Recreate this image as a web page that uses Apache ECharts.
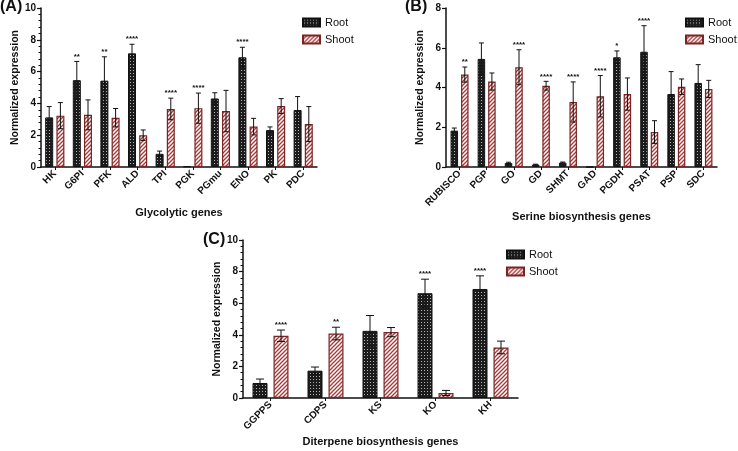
<!DOCTYPE html>
<html>
<head>
<meta charset="utf-8">
<script src="https://cdn.jsdelivr.net/npm/echarts@6/dist/echarts.min.js"></script>
<style>
  html, body { margin: 0; padding: 0; background: #fff; }
  #chart { width: 738px; height: 451px; }
</style>
</head>
<body>
<div id="chart"></div>
<script>
// (A) glycolytic genes
const glyGenes = ['HK', 'G6PI', 'PFK', 'ALD', 'TPI', 'PGK', 'PGmu', 'ENO', 'PK', 'PDC'];
const glyRoot = [3.12, 5.46, 5.43, 7.15, 0.83, 0.04, 4.31, 6.9, 2.32, 3.58];
const glyRootErr = [0.68, 1.18, 1.5, 0.57, 0.17, 0, 0.36, 0.63, 0.2, 0.85];
const glyShoot = [3.23, 3.28, 3.1, 2.0, 3.65, 3.7, 3.52, 2.54, 3.83, 2.7];
const glyShootErr = [0.82, 0.94, 0.58, 0.33, 0.68, 0.95, 1.3, 0.52, 0.47, 1.1];
const glyRootSig = ['', '**', '**', '****', '', '', '', '****', '', ''];
const glyShootSig = ['', '', '', '', '****', '****', '', '', '', ''];

// (B) serine biosynthesis genes
const serGenes = ['RUBISCO', 'PGP', 'GO', 'GD', 'SHMT', 'GAD', 'PGDH', 'PSAT', 'PSP', 'SDC'];
const serRoot = [1.83, 5.44, 0.2, 0.12, 0.22, 0, 5.52, 5.8, 3.67, 4.23];
const serRootErr = [0.13, 0.8, 0.04, 0.02, 0.03, 0, 0.32, 1.31, 1.13, 0.92];
const serShoot = [4.65, 4.3, 5.02, 4.09, 3.27, 3.56, 3.67, 1.76, 4.04, 3.93];
const serShootErr = [0.38, 0.43, 0.88, 0.22, 1.01, 1.04, 0.81, 0.57, 0.39, 0.43];
const serRootSig = ['', '', '', '', '', '', '*', '****', '', ''];
const serShootSig = ['**', '', '****', '****', '****', '****', '', '', '', ''];

// (C) diterpene biosynthesis genes
const dtpGenes = ['GGPPS', 'CDPS', 'KS', 'KO', 'KH'];
const dtpRoot = [0.95, 1.73, 4.25, 6.63, 6.9];
const dtpRootErr = [0.25, 0.23, 0.97, 0.89, 0.83];
const dtpShoot = [3.94, 4.08, 4.17, 0.32, 3.2];
const dtpShootErr = [0.36, 0.4, 0.29, 0.16, 0.4];
const dtpRootSig = ['', '', '', '****', '****'];
const dtpShootSig = ['****', '**', '', '', ''];

const FONT = 'Liberation Sans, Arial, sans-serif';

// bar fill patterns
function rootPattern() {
  const c = document.createElement('canvas');
  c.width = 3; c.height = 3;
  const g = c.getContext('2d');
  g.fillStyle = '#1c1c1c';
  g.fillRect(0, 0, 3, 3);
  g.fillStyle = '#b5b5b5';
  g.fillRect(1, 1, 1, 1);
  return { image: c, repeat: 'repeat' };
}
function shootPattern() {
  const c = document.createElement('canvas');
  c.width = 4; c.height = 4;
  const g = c.getContext('2d');
  g.fillStyle = '#ffffff';
  g.fillRect(0, 0, 4, 4);
  g.strokeStyle = '#a23a3a';
  g.lineWidth = 1.3;
  g.beginPath();
  g.moveTo(-1, 5); g.lineTo(5, -1);
  g.moveTo(-1, 1); g.lineTo(1, -1);
  g.moveTo(3, 5); g.lineTo(5, 3);
  g.stroke();
  return { image: c, repeat: 'repeat' };
}
const rootFill = rootPattern();
const shootFill = shootPattern();

const grids = [
  { left: 41, top: 8, right: 421, bottom: 284 },
  { left: 446, top: 8, right: 21, bottom: 284 },
  { left: 243, top: 240, right: 220, bottom: 53 }
];

const panels = [
  { genes: glyGenes, root: glyRoot, rootErr: glyRootErr, shoot: glyShoot, shootErr: glyShootErr,
    rootSig: glyRootSig, shootSig: glyShootSig, max: 10, minor: true, barW: 8, cap: 5,
    xName: 'Glycolytic genes', nameGap: 40 },
  { genes: serGenes, root: serRoot, rootErr: serRootErr, shoot: serShoot, shootErr: serShootErr,
    rootSig: serRootSig, shootSig: serShootSig, max: 8, minor: false, barW: 7.5, cap: 5,
    xName: 'Serine biosynthesis genes', nameGap: 40 },
  { genes: dtpGenes, root: dtpRoot, rootErr: dtpRootErr, shoot: dtpShoot, shootErr: dtpShootErr,
    rootSig: dtpRootSig, shootSig: dtpShootSig, max: 10, minor: true, barW: 15, cap: 8,
    xName: 'Diterpene biosynthesis genes', nameGap: 38 }
];

const xAxes = [], yAxes = [], series = [];

function errRender(vals, errs, sigs, offset, capW) {
  return function (params, api) {
    const i = params.dataIndex;
    const v = vals[i], e = errs[i];
    const cx = api.coord([i, 0])[0] + offset;
    const children = [];
    const yTop = api.coord([i, v + e])[1];
    if (e > 0) {
      const yBot = api.coord([i, v - e])[1];
      const st = { stroke: '#111', lineWidth: 1 };
      children.push({ type: 'line', shape: { x1: cx, y1: yTop, x2: cx, y2: yBot }, style: st });
      children.push({ type: 'line', shape: { x1: cx - capW / 2, y1: yTop, x2: cx + capW / 2, y2: yTop }, style: st });
      children.push({ type: 'line', shape: { x1: cx - capW / 2, y1: yBot, x2: cx + capW / 2, y2: yBot }, style: st });
    }
    if (sigs[i]) {
      children.push({ type: 'text', x: cx, y: yTop - 1,
        style: { text: sigs[i], fill: '#111', font: 'bold 8px ' + FONT, align: 'center', verticalAlign: 'bottom' } });
    }
    return { type: 'group', children: children };
  };
}

panels.forEach(function (p, k) {
  xAxes.push({
    gridIndex: k, type: 'category', data: p.genes,
    name: p.xName, nameLocation: 'middle', nameGap: p.nameGap,
    nameTextStyle: { fontFamily: FONT, fontWeight: 'bold', fontSize: 11, color: '#111' },
    axisLine: { lineStyle: { color: '#111', width: 1.5 } },
    axisTick: { show: true, alignWithLabel: true, length: 3, lineStyle: { color: '#111', width: 1 } },
    axisLabel: { rotate: 45, interval: 0, margin: 5, fontFamily: FONT, fontWeight: 'bold', fontSize: 10, color: '#111' }
  });
  yAxes.push({
    gridIndex: k, type: 'value', min: 0, max: p.max, interval: 2,
    name: 'Normalized expression', nameLocation: 'middle', nameGap: 20,
    nameTextStyle: { fontFamily: FONT, fontWeight: 'bold', fontSize: 10.5, color: '#111' },
    axisLine: { show: true, lineStyle: { color: '#111', width: 1.5 } },
    axisTick: { show: true, length: 4, lineStyle: { color: '#111', width: 1.2 } },
    minorTick: { show: p.minor, splitNumber: 5, length: 2.5, lineStyle: { color: '#111', width: 1 } },
    splitLine: { show: false },
    axisLabel: { margin: 5, fontFamily: FONT, fontWeight: 'bold', fontSize: 10, color: '#111' }
  });
  series.push({
    name: 'Root', type: 'bar', xAxisIndex: k, yAxisIndex: k, data: p.root,
    barWidth: p.barW, barGap: '40%',
    itemStyle: { color: rootFill, borderColor: '#111', borderWidth: 1 }
  });
  series.push({
    name: 'Shoot', type: 'bar', xAxisIndex: k, yAxisIndex: k, data: p.shoot,
    barWidth: p.barW, barGap: '40%',
    itemStyle: { color: shootFill, borderColor: '#7a2424', borderWidth: 1.2 }
  });
  const off = p.barW * 1.4 / 2;
  series.push({
    type: 'custom', xAxisIndex: k, yAxisIndex: k, z: 5, silent: true,
    data: p.root.map(function (v, i) { return [i, v]; }),
    renderItem: errRender(p.root, p.rootErr, p.rootSig, -off, p.cap)
  });
  series.push({
    type: 'custom', xAxisIndex: k, yAxisIndex: k, z: 5, silent: true,
    data: p.shoot.map(function (v, i) { return [i, v]; }),
    renderItem: errRender(p.shoot, p.shootErr, p.shootSig, off, p.cap)
  });
});

function legendAt(left, top) {
  return {
    data: ['Root', 'Shoot'], orient: 'vertical', left: left, top: top, padding: 0,
    itemWidth: 17, itemHeight: 8, itemGap: 4, icon: 'rect', selectedMode: false,
    textStyle: { fontFamily: FONT, fontSize: 11, color: '#111', lineHeight: 13, overflow: 'none' }
  };
}

const chart = echarts.init(document.getElementById('chart'), null, { renderer: 'canvas' });
chart.setOption({
  animation: false,
  backgroundColor: '#fff',
  grid: grids,
  xAxis: xAxes,
  yAxis: yAxes,
  legend: [legendAt(302, 16), legendAt(685, 16), legendAt(506, 248)],
  series: series,
  graphic: [
    { type: 'text', left: 0, top: -1, style: { text: '(A)', font: 'bold 16px ' + FONT, fill: '#111' } },
    { type: 'text', left: 405, top: -1, style: { text: '(B)', font: 'bold 16px ' + FONT, fill: '#111' } },
    { type: 'text', left: 203, top: 232, style: { text: '(C)', font: 'bold 16px ' + FONT, fill: '#111' } }
  ]
});
</script>
</body>
</html>
